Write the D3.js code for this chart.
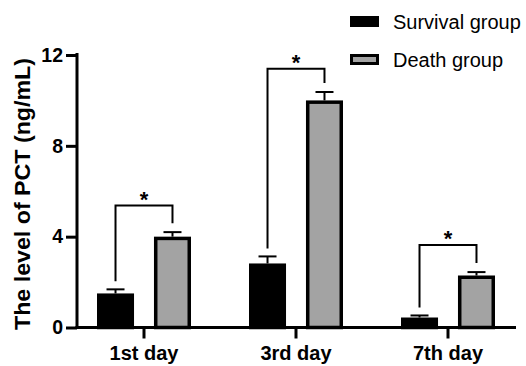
<!DOCTYPE html>
<html>
<head>
<meta charset="utf-8">
<script src="https://cdn.jsdelivr.net/npm/d3@7"></script>
<style>
  html, body { margin: 0; padding: 0; background: #fff; }
  svg { display: block; font-family: "Liberation Sans", Arial, sans-serif; }
</style>
</head>
<body>
<svg id="chart" width="526" height="366"></svg>
<script>
const days = ["1st day", "3rd day", "7th day"];
const groups = ["Survival group", "Death group"];
const survival = [1.5, 2.82, 0.44];
const survivalErr = [0.18, 0.31, 0.09];
const death = [4.0, 10.0, 2.29];
const deathErr = [0.2, 0.37, 0.15];
const bracketTop = [5.37, 11.39, 3.63];
const yTicks = [0, 4, 8, 12];

const colors = { "Survival group": "#000000", "Death group": "#a3a3a3" };

const svg = d3.select("#chart");
const y = d3.scaleLinear().domain([0, 12]).range([327.5, 55]);
const x0 = d3.scaleBand().domain(days).range([68, 524]);
const x1 = d3.scaleBand().domain(groups).range([-47, 47]).paddingInner(0.35);

const rows = days.map((d, i) => ({
  day: d,
  vals: [
    { g: groups[0], v: survival[i], e: survivalErr[i] },
    { g: groups[1], v: death[i], e: deathErr[i] }
  ],
  top: bracketTop[i]
}));

const cx = d => x0(d) + x0.bandwidth() / 2;

const gDay = svg.selectAll("g.day").data(rows).join("g")
  .attr("class", "day")
  .attr("transform", d => `translate(${cx(d.day)},0)`);

// error bars (upper only)
gDay.selectAll("g.err").data(d => d.vals).join("g").attr("class", "err")
  .each(function(d) {
    const g = d3.select(this);
    const xc = x1(d.g) + x1.bandwidth() / 2;
    g.append("line").attr("x1", xc).attr("x2", xc)
      .attr("y1", y(d.v)).attr("y2", y(d.v + d.e))
      .attr("stroke", "#000").attr("stroke-width", 2);
    g.append("line").attr("x1", xc - 9).attr("x2", xc + 9)
      .attr("y1", y(d.v + d.e)).attr("y2", y(d.v + d.e))
      .attr("stroke", "#000").attr("stroke-width", 2);
  });

gDay.selectAll("rect").data(d => d.vals).join("rect")
  .attr("x", d => x1(d.g) + 1.75)
  .attr("width", x1.bandwidth() - 3.5)
  .attr("y", d => y(d.v) + 1.75)
  .attr("height", d => Math.max(0, y(0) - y(d.v) - 1.75))
  .attr("fill", d => colors[d.g])
  .attr("stroke", "#000")
  .attr("stroke-width", 3.5);

// significance brackets
gDay.each(function(d) {
  const g = d3.select(this);
  const xl = x1(groups[0]) + x1.bandwidth() / 2;
  const xr = x1(groups[1]) + x1.bandwidth() / 2;
  const yt = y(d.top);
  const yl = y(d.vals[0].v + d.vals[0].e) - 8;
  const yr = y(d.vals[1].v + d.vals[1].e) - 9;
  g.append("path")
    .attr("d", `M${xl},${yl}V${yt}H${xr}V${yr}`)
    .attr("fill", "none").attr("stroke", "#000").attr("stroke-width", 2);
  g.append("text").attr("x", (xl + xr) / 2).attr("y", yt + 1)
    .attr("text-anchor", "middle").attr("font-size", 22).attr("font-weight", "bold")
    .text("*");
});

// y axis
const yAxis = svg.append("g").attr("transform", "translate(77,0)")
  .call(d3.axisLeft(y).tickValues(yTicks).tickFormat(d3.format("d")).tickSize(11).tickPadding(3));
yAxis.select(".domain").attr("d", `M0,${y(12) - 2}V${y(0) + 1.5}`).attr("stroke-width", 3);
yAxis.selectAll(".tick line").attr("stroke-width", 3);
yAxis.selectAll(".tick text").attr("font-size", 19.5).attr("font-weight", "bold")
  .attr("fill", "#000").attr("font-family", "Liberation Sans, Arial, sans-serif");

// x axis
const xAxis = svg.append("g").attr("transform", `translate(0,${y(0)})`)
  .call(d3.axisBottom(x0).tickSize(11).tickPadding(7));
xAxis.select(".domain").attr("d", "M75.5,0H516").attr("stroke-width", 3);
xAxis.selectAll(".tick line").attr("stroke-width", 3);
xAxis.selectAll(".tick text").attr("font-size", 20).attr("font-weight", "bold")
  .attr("fill", "#000").attr("font-family", "Liberation Sans, Arial, sans-serif");

// y title
svg.append("text")
  .attr("transform", "translate(30,194) rotate(-90)")
  .attr("text-anchor", "middle")
  .attr("font-size", 22.5).attr("font-weight", "bold")
  .attr("textLength", 272).attr("lengthAdjust", "spacingAndGlyphs")
  .text("The level of PCT (ng/mL)");

// legend
const leg = svg.selectAll("g.leg").data(groups).join("g").attr("class", "leg")
  .attr("transform", (d, i) => `translate(350,${16 + i * 38})`);
leg.append("rect").attr("x", 1.5).attr("y", 1.5).attr("width", 26).attr("height", 8)
  .attr("fill", d => colors[d]).attr("stroke", "#000").attr("stroke-width", 3);
leg.append("text").attr("x", 43).attr("y", 12.5)
  .attr("font-size", 20).attr("fill", "#000").text(d => d);
</script>
</body>
</html>
